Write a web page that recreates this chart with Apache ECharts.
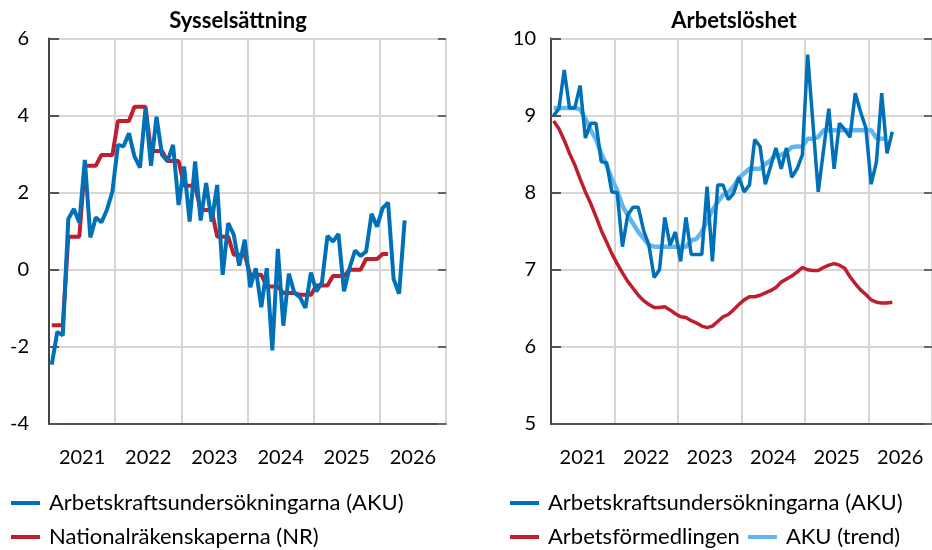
<!DOCTYPE html>
<html>
<head>
<meta charset="utf-8">
<script src="https://cdn.jsdelivr.net/npm/echarts@6/dist/echarts.min.js"></script>
<style>
  html, body { margin: 0; padding: 0; background: #fff; }
  #chart { width: 932px; height: 550px; }
</style>
</head>
<body>
<div id="chart"></div>
<script>
// years on the axis, months Jan 2021 - Dec 2026 for the data
const years = ['2021', '2022', '2023', '2024', '2025', '2026'];
const months = [];
years.forEach(y => { for (let i = 1; i <= 12; i++) months.push(y + '-' + (i < 10 ? '0' + i : i)); });

const nameAku = 'Arbetskraftsundersökningarna (AKU)';
const nameNr = 'Nationalräkenskaperna (NR)';
const nameAf = 'Arbetsförmedlingen';
const nameTrend = 'AKU (trend)';

// Sysselsättning, årlig procentuell förändring
const sysAku = [
  -2.46, -1.61, -1.70, 1.32, 1.58, 1.23, 2.85, 0.84, 1.36, 1.23, 1.55, 2.03,
  3.24, 3.20, 3.54, 2.94, 2.65, 4.19, 2.70, 3.97, 2.98, 2.82, 3.24, 1.68,
  2.68, 1.25, 2.81, 1.28, 2.25, 1.25, 2.20, -0.13, 1.21, 0.91, 0.11, 0.78,
  -0.45, 0.04, -0.97, 0.04, -2.09, 0.54, -1.45, -0.10, -0.60, -0.71, -0.99, -0.07,
  -0.56, -0.33, 0.88, 0.73, 0.93, -0.56, 0.04, 0.50, 0.36, 0.47, 1.45, 1.12,
  1.60, 1.74, -0.24, -0.62, 1.28
];
const sysNr = [
  -1.44, -1.44, -1.44, 0.86, 0.86, 0.86, 2.70, 2.70, 2.70, 2.98, 2.98, 2.98,
  3.86, 3.86, 3.86, 4.23, 4.23, 4.23, 3.08, 3.08, 3.08, 2.82, 2.82, 2.82,
  2.18, 2.18, 2.18, 1.55, 1.55, 1.55, 0.86, 0.86, 0.86, 0.39, 0.39, 0.39,
  -0.13, -0.13, -0.13, -0.43, -0.43, -0.43, -0.60, -0.60, -0.60, -0.65, -0.65, -0.65,
  -0.41, -0.41, -0.41, -0.16, -0.16, -0.16, 0.00, 0.00, 0.00, 0.28, 0.28, 0.28,
  0.41, 0.41
];

// Arbetslöshet, procent
const arbAku = [
  9.00, 9.09, 9.59, 9.10, 9.10, 9.39, 8.71, 8.90, 8.90, 8.40, 8.39, 8.01,
  8.00, 7.30, 7.71, 7.81, 7.81, 7.51, 7.32, 6.90, 7.00, 7.68, 7.32, 7.49,
  7.11, 7.68, 7.20, 7.20, 7.20, 8.08, 7.11, 8.10, 8.10, 7.91, 7.99, 8.20,
  8.01, 8.10, 8.69, 8.60, 8.11, 8.34, 8.58, 8.31, 8.58, 8.20, 8.31, 8.49,
  9.79, 8.90, 8.01, 8.55, 9.09, 8.31, 8.90, 8.82, 8.72, 9.29, 9.05, 8.84,
  8.11, 8.40, 9.29, 8.51, 8.79
];
const arbAf = [
  8.93, 8.83, 8.68, 8.51, 8.36, 8.18, 8.01, 7.86, 7.69, 7.51, 7.36, 7.21,
  7.08, 6.96, 6.85, 6.76, 6.67, 6.60, 6.55, 6.51, 6.51, 6.52, 6.48, 6.43,
  6.39, 6.38, 6.34, 6.31, 6.27, 6.25, 6.27, 6.33, 6.39, 6.42, 6.48, 6.55,
  6.61, 6.65, 6.65, 6.67, 6.70, 6.73, 6.77, 6.84, 6.88, 6.92, 6.97, 7.03,
  7.00, 6.99, 6.99, 7.03, 7.06, 7.08, 7.06, 7.02, 6.91, 6.82, 6.74, 6.68,
  6.61, 6.58, 6.57, 6.57, 6.58
];
const arbTrend = [
  9.10, 9.10, 9.10, 9.10, 9.10, 9.08, 8.96, 8.81, 8.69, 8.51, 8.36, 8.18,
  8.03, 7.83, 7.71, 7.60, 7.49, 7.41, 7.32, 7.30, 7.30, 7.30, 7.30, 7.30,
  7.30, 7.30, 7.38, 7.40, 7.49, 7.64, 7.77, 7.88, 7.97, 8.00, 8.08, 8.19,
  8.25, 8.31, 8.31, 8.31, 8.37, 8.42, 8.49, 8.49, 8.53, 8.59, 8.60, 8.60,
  8.70, 8.70, 8.72, 8.81, 8.81, 8.81, 8.81, 8.81, 8.81, 8.81, 8.81, 8.81,
  8.81, 8.71, 8.70, 8.70
];

const blue = '#0071b9';
const red = '#be1e2d';
const lightBlue = '#62b6ee';
const font = 'Lato';
const gridColor = '#d6d6d6';

const chart = echarts.init(document.getElementById('chart'));

function yearAxis(gridIndex) {
  return {
    type: 'category', gridIndex: gridIndex, data: years, boundaryGap: true,
    axisLine: { onZero: false, lineStyle: { color: '#222', width: 1.5 } },
    axisTick: { show: false },
    axisLabel: { color: '#000', fontFamily: font, fontSize: 20, margin: 24 },
    splitLine: { show: true, lineStyle: { color: gridColor, width: 2 } }
  };
}
function monthAxis(gridIndex) {
  return { type: 'category', gridIndex: gridIndex, data: months, boundaryGap: true, show: false };
}
function valueAxis(gridIndex, min, max, interval, margin) {
  return {
    type: 'value', gridIndex: gridIndex, min: min, max: max, interval: interval,
    axisLine: { show: true, lineStyle: { color: '#444', width: 2 } },
    axisTick: { show: true, inside: true, length: 10, lineStyle: { color: '#555', width: 2 } },
    axisLabel: { color: '#000', fontFamily: font, fontSize: 20, margin: margin },
    splitLine: { show: true, lineStyle: { color: gridColor, width: 2 } }
  };
}
function rightAxis(gridIndex, min, max, interval) {
  return {
    type: 'value', gridIndex: gridIndex, position: 'right', min: min, max: max, interval: interval,
    axisLine: { show: false },
    axisTick: { show: true, inside: true, length: 8, lineStyle: { color: '#666', width: 2 } },
    axisLabel: { show: false },
    splitLine: { show: false }
  };
}
function line(name, data, color, width, xi, yi) {
  return {
    name: name, type: 'line', data: data, xAxisIndex: xi, yAxisIndex: yi,
    symbol: 'none', smooth: false,
    itemStyle: { color: color },
    lineStyle: { color: color, width: width }
  };
}
const legendText = { color: '#000', fontFamily: font, fontSize: 22, lineHeight: 26, padding: [0, 0, 0, 4] };
function legend(left, top, names) {
  return {
    left: left, top: top, padding: 0, itemGap: 8, itemWidth: 29, itemHeight: 4, icon: 'rect',
    data: names, textStyle: legendText, selectedMode: false
  };
}

const option = {
  animation: false,
  title: [
    { text: 'Sysselsättning', left: 233, top: 5, textAlign: 'center',
      textStyle: { fontFamily: font, fontWeight: 'bold', fontSize: 22, color: '#000' } },
    { text: 'Arbetslöshet', left: 729, top: 5, textAlign: 'center',
      textStyle: { fontFamily: font, fontWeight: 'bold', fontSize: 22, color: '#000' } }
  ],
  grid: [
    { left: 49, top: 38.5, width: 397, height: 385.5 },
    { left: 551, top: 38.5, width: 384, height: 385.5 }
  ],
  xAxis: [yearAxis(0), monthAxis(0), yearAxis(1), monthAxis(1)],
  yAxis: [
    valueAxis(0, -4, 6, 2, 20), rightAxis(0, -4, 6, 2),
    valueAxis(1, 5, 10, 1, 15), rightAxis(1, 5, 10, 1)
  ],
  legend: [
    legend(11, 490, [nameAku]),
    legend(11, 524, [nameNr]),
    legend(510, 490, [nameAku]),
    legend(510, 524, [nameAf, nameTrend])
  ],
  series: [
    line(nameNr, sysNr, red, 4, 1, 0),
    line(nameAku, sysAku, blue, 4, 1, 0),
    line(nameAf, arbAf, red, 3.5, 3, 2),
    line(nameTrend, arbTrend, lightBlue, 4.5, 3, 2),
    line(nameAku, arbAku, blue, 3.5, 3, 2)
  ]
};
chart.setOption(option);
</script>
</body>
</html>
